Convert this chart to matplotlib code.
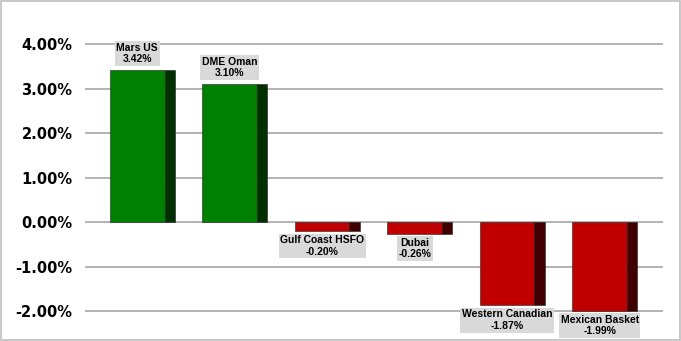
import matplotlib
matplotlib.use("Agg")
import matplotlib.pyplot as plt
from matplotlib.patches import Rectangle

categories = ["Mars US", "DME Oman", "Gulf Coast HSFO", "Dubai", "Western Canadian", "Mexican Basket"]
values = [3.42, 3.10, -0.20, -0.26, -1.87, -1.99]
yticks = [-2, -1, 0, 1, 2, 3, 4]
yticklabels = ["-2.00%", "-1.00%", "0.00%", "1.00%", "2.00%", "3.00%", "4.00%"]

plt.rcParams['font.family'] = ['Liberation Sans', 'DejaVu Sans']

fig = plt.figure(figsize=(6.81, 3.41), dpi=100)
fig.patches.append(Rectangle((0.001, 0.002), 0.997, 0.995, transform=fig.transFigure,
                             fill=False, edgecolor='#bfbfbf', linewidth=1.2))
ax = fig.add_axes([0.1248, 0.0487, 0.8488, 0.8745])

ax.set_xlim(-0.62, 5.63)
ax.set_ylim(-2.3, 4.4)
ax.set_yticks(yticks)
ax.set_yticklabels(yticklabels, fontsize=10.5, fontweight='bold', family='DejaVu Sans')
ax.set_xticks([])
for s in ax.spines.values():
    s.set_visible(False)
ax.tick_params(axis='y', length=0, pad=9)
ax.grid(axis='y', color='#a6a6a6', linewidth=1.2)
ax.set_axisbelow(True)

width = 0.70
side = 0.11
xs = list(range(len(categories)))
front_colors = ['#008000' if v >= 0 else '#c00000' for v in values]
side_colors = ['#003000' if v >= 0 else '#400000' for v in values]

ax.bar([x - side / 2 for x in xs], values, width=width - side, color=front_colors,
       edgecolor='#202020', linewidth=0.4, zorder=3)
ax.bar([x + width / 2 - side / 2 for x in xs], values, width=side, color=side_colors,
       edgecolor='#202020', linewidth=0.4, zorder=3)

for x, c, v in zip(xs, categories, values):
    txt = f"{c}\n{v:.2f}%"
    if v >= 0:
        ax.annotate(txt, (x - side / 2, v), xytext=(0, 4), textcoords='offset points',
                    ha='center', va='bottom', fontsize=7.5, fontweight='bold',
                    linespacing=1.2, zorder=4,
                    bbox=dict(boxstyle='square,pad=0.15', fc='#d9d9d9', ec='none'))
    else:
        ax.annotate(txt, (x - side / 2, v), xytext=(0, -3), textcoords='offset points',
                    ha='center', va='top', fontsize=7.5, fontweight='bold',
                    linespacing=1.2, zorder=4,
                    bbox=dict(boxstyle='square,pad=0.15', fc='#d9d9d9', ec='none'))

fig.savefig("out.png", dpi=100)
